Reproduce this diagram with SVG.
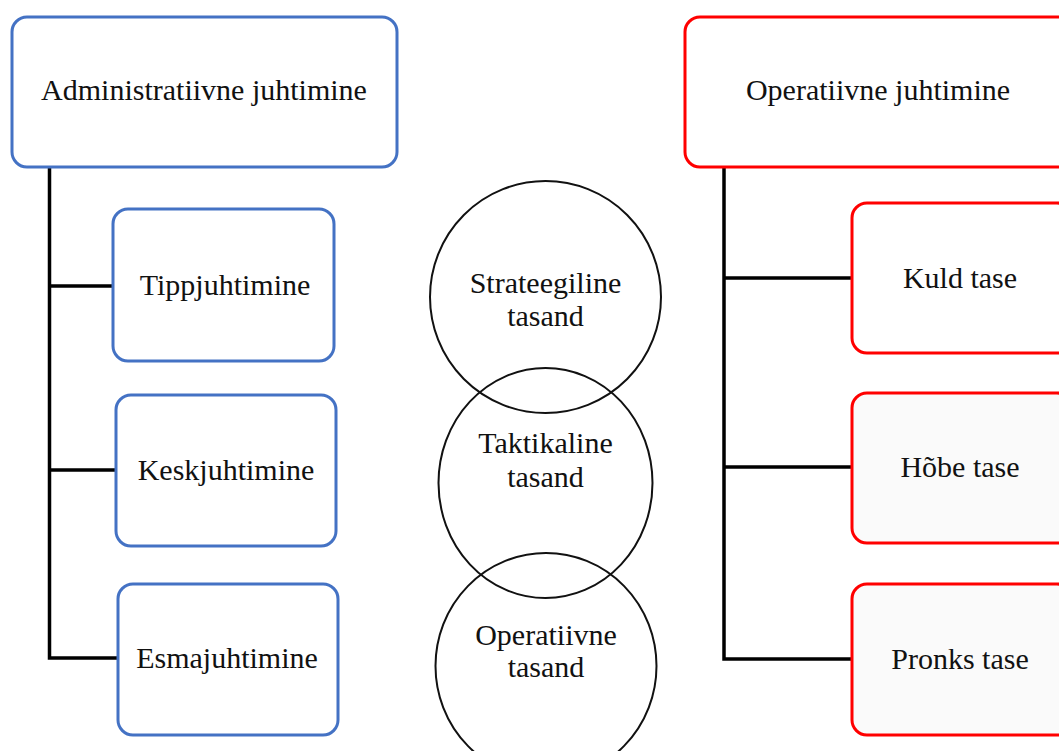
<svg xmlns="http://www.w3.org/2000/svg" width="1059" height="751" viewBox="0 0 1059 751">
<style>
text{font-family:"Liberation Serif","Times New Roman",serif;font-size:30px;fill:#111;text-anchor:middle}
.blue{fill:#fff;stroke:#4472C4;stroke-width:3}
.red{fill:#fff;stroke:#FF0000;stroke-width:3}
.redg{fill:#FAFAFA;stroke:#FF0000;stroke-width:3}
.circ{fill:none;stroke:#111;stroke-width:2}
.conn{fill:none;stroke:#000;stroke-width:3.5}
</style>
<rect width="1059" height="751" fill="#fff"/>
<g id="connectors">
<path class="conn" d="M49.5,167 V658 H118 M49.5,286 H113 M49.5,470 H116"/>
<path class="conn" d="M724,167 V659 H852 M724,278 H852 M724,467 H852"/>
</g>
<g id="admin"><rect class="blue" x="12" y="17" width="385" height="150" rx="15"/><text x="204" y="100">Administratiivne juhtimine</text></g>
<g id="tipp"><rect class="blue" x="113" y="209" width="221" height="152" rx="15"/><text x="225" y="295">Tippjuhtimine</text></g>
<g id="kesk"><rect class="blue" x="116" y="395" width="220" height="151" rx="15"/><text x="226" y="480">Keskjuhtimine</text></g>
<g id="esma"><rect class="blue" x="118" y="584" width="220" height="151" rx="15"/><text x="227" y="668">Esmajuhtimine</text></g>
<g id="oper"><rect class="red" x="685" y="17" width="390" height="150" rx="15"/><text x="878" y="100">Operatiivne juhtimine</text></g>
<g id="kuld"><rect class="red" x="852" y="203" width="220" height="150" rx="15"/><text x="960" y="288">Kuld tase</text></g>
<g id="hobe"><rect class="redg" x="852" y="393" width="220" height="150" rx="15"/><text x="960" y="477">Hõbe tase</text></g>
<g id="pronks"><rect class="redg" x="852" y="584" width="220" height="151" rx="15"/><text x="960" y="669">Pronks tase</text></g>
<g id="strat"><ellipse class="circ" cx="545.5" cy="297" rx="115.5" ry="116"/><text x="545.5" y="293">Strateegiline</text><text x="545.5" y="326">tasand</text></g>
<g id="takt"><ellipse class="circ" cx="545.5" cy="483" rx="107" ry="115"/><text x="545.5" y="453">Taktikaline</text><text x="545.5" y="487">tasand</text></g>
<g id="opt"><ellipse class="circ" cx="546" cy="666" rx="110.5" ry="113"/><text x="546" y="645">Operatiivne</text><text x="546" y="677">tasand</text></g>
</svg>
